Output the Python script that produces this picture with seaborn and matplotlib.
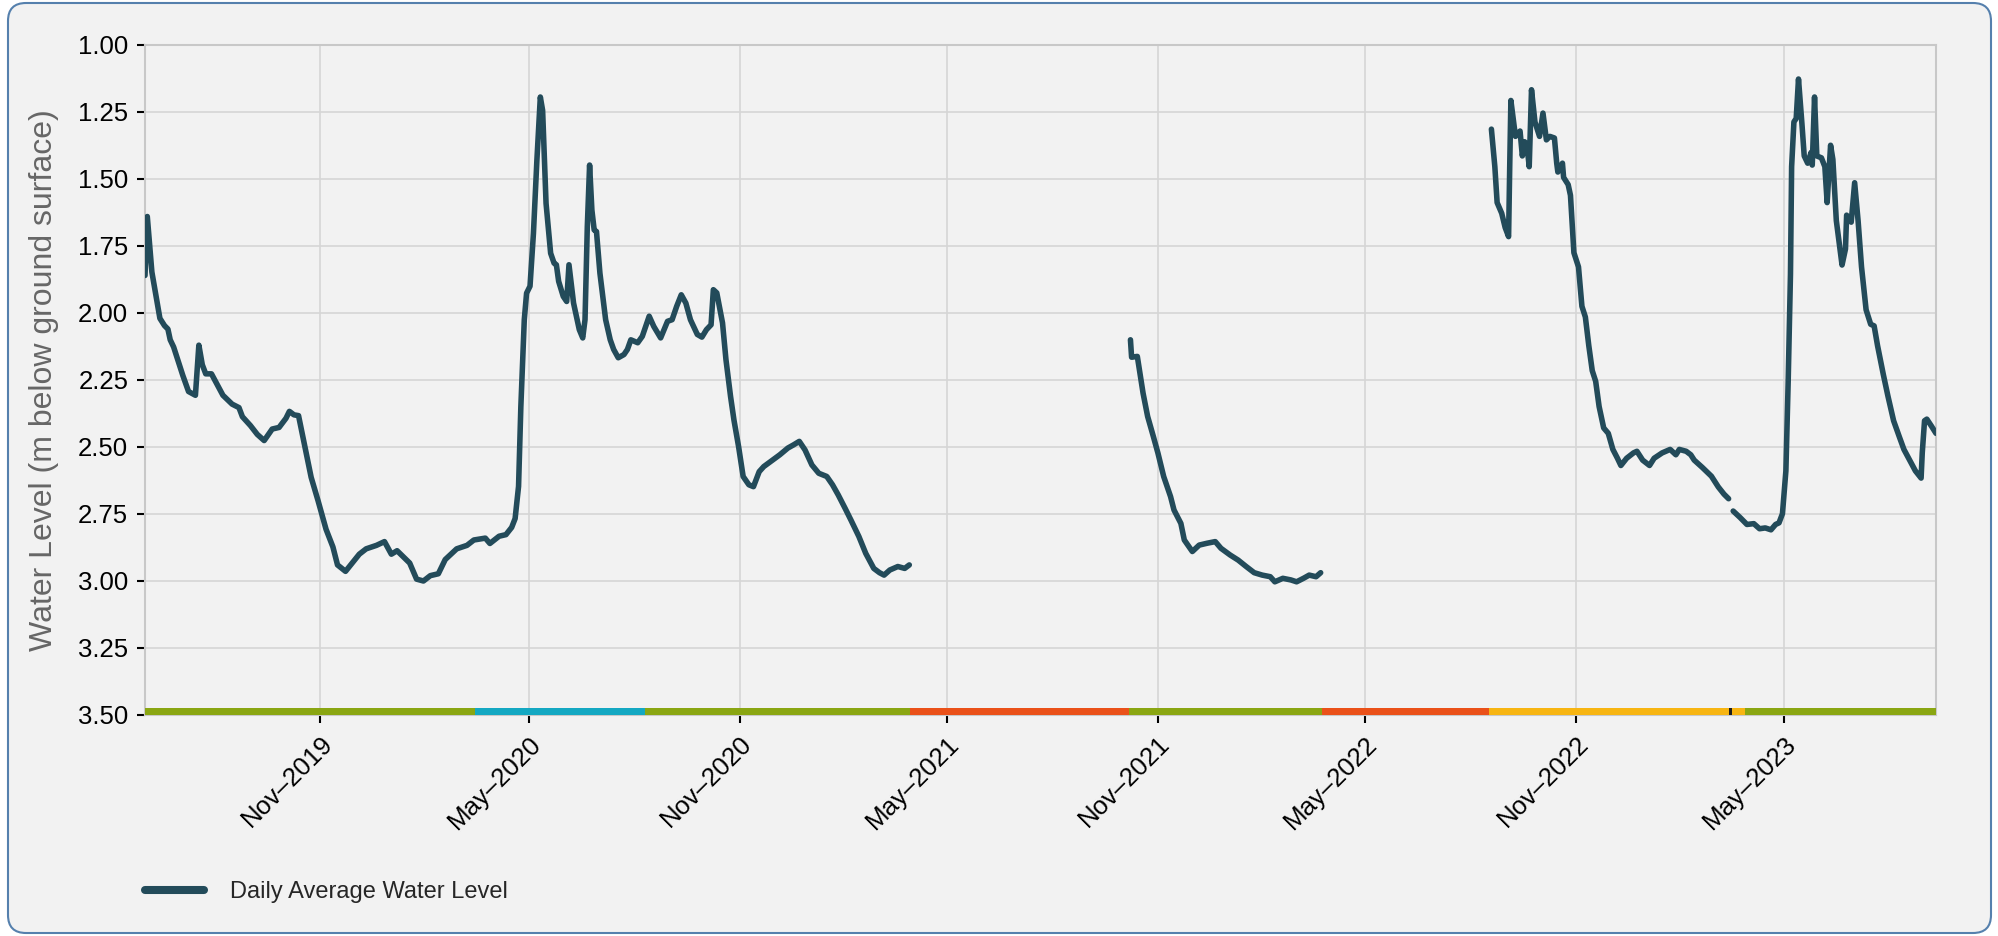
import numpy as np
import pandas as pd
import seaborn as sns
import matplotlib.pyplot as plt
import matplotlib.dates as mdates
from matplotlib.lines import Line2D
from matplotlib.patches import FancyBboxPatch

# ---------------------------
# Data
# ---------------------------
start_date = pd.Timestamp("2019-06-01")

# days since start_date and daily average level (m below ground surface), one pair per logging run
run1_days = [0, 2, 6, 13, 17, 20, 22, 25, 33, 38, 44, 47, 50, 53, 58, 68, 76, 82, 85, 92,
             98, 104, 111, 117, 123, 126, 130, 134, 139, 145, 151, 158, 164, 168, 175, 182, 187, 193, 202, 209,
             215, 220, 231, 237, 243, 249, 256, 262, 272, 281, 287, 297, 301, 309, 315, 320, 323, 326, 328, 331,
             333, 336, 339, 342, 345, 347, 350, 354, 357, 359, 361, 365, 368, 370, 374, 379, 382, 384, 386, 388,
             390, 392, 394, 397, 402, 406, 409, 413, 418, 421, 424, 430, 434, 440, 444, 450, 456, 460, 464, 468,
             472, 476, 482, 486, 490, 494, 496, 499, 504, 507, 511, 514, 518, 522, 527, 531, 536, 540, 546, 554,
             561, 566, 571, 576, 582, 588, 595, 600, 605, 611, 616, 623, 629, 636, 641, 645, 650, 657, 663, 667]
run1_level = [1.86, 1.64, 1.847, 2.02, 2.047, 2.06, 2.10, 2.127, 2.233, 2.293, 2.307, 2.12, 2.193, 2.227, 2.227, 2.307, 2.34, 2.353, 2.387, 2.42,
              2.453, 2.476, 2.433, 2.427, 2.393, 2.367, 2.38, 2.383, 2.487, 2.613, 2.70, 2.807, 2.873, 2.94, 2.964, 2.927, 2.90, 2.88, 2.867, 2.853,
              2.90, 2.887, 2.933, 2.993, 3.00, 2.98, 2.973, 2.92, 2.88, 2.867, 2.847, 2.84, 2.86, 2.833, 2.827, 2.80, 2.767, 2.647, 2.35, 2.025,
              1.926, 1.90, 1.702, 1.43, 1.194, 1.244, 1.591, 1.777, 1.814, 1.82, 1.882, 1.938, 1.957, 1.82, 1.963, 2.062, 2.093, 2.025, 1.678, 1.448,
              1.616, 1.69, 1.696, 1.851, 2.025, 2.10, 2.136, 2.167, 2.155, 2.136, 2.10, 2.111, 2.087, 2.012, 2.05, 2.093, 2.031, 2.025, 1.975, 1.932,
              1.963, 2.025, 2.08, 2.09, 2.062, 2.044, 1.913, 1.925, 2.037, 2.174, 2.311, 2.40, 2.498, 2.61, 2.641, 2.648, 2.592, 2.573, 2.554, 2.529,
              2.504, 2.492, 2.479, 2.511, 2.567, 2.598, 2.61, 2.641, 2.679, 2.729, 2.772, 2.834, 2.897, 2.953, 2.969, 2.978, 2.959, 2.946, 2.953, 2.94]

run2_days = [860, 861, 866, 871, 875, 880, 884, 889, 895, 898, 904, 907, 914, 920, 927, 934, 939, 947, 954, 961,
             968, 975, 982, 986, 993, 1000, 1005, 1011, 1016, 1022, 1026]
run2_level = [2.10, 2.165, 2.162, 2.299, 2.386, 2.461, 2.523, 2.61, 2.685, 2.735, 2.785, 2.847, 2.89, 2.866, 2.859, 2.853, 2.878, 2.903, 2.922, 2.946,
              2.969, 2.978, 2.984, 3.003, 2.99, 2.996, 3.003, 2.99, 2.978, 2.984, 2.969]

run3_days = [1175, 1178, 1180, 1184, 1187, 1190, 1191, 1192, 1196, 1200, 1202, 1204, 1206, 1208, 1210, 1213, 1217, 1220, 1223, 1226,
             1230, 1232, 1233, 1237, 1238, 1242, 1244, 1247, 1251, 1254, 1257, 1260, 1263, 1266, 1269, 1273, 1277, 1281, 1285, 1288,
             1293, 1299, 1302, 1307, 1313, 1317, 1324, 1331, 1336, 1339, 1345, 1349, 1352, 1359, 1367, 1373, 1378, 1382]
run3_level = [1.314, 1.454, 1.588, 1.628, 1.681, 1.715, 1.45, 1.207, 1.341, 1.321, 1.414, 1.361, 1.374, 1.454, 1.167, 1.287, 1.341, 1.254, 1.354, 1.341,
              1.347, 1.441, 1.474, 1.441, 1.494, 1.521, 1.561, 1.775, 1.828, 1.975, 2.015, 2.122, 2.215, 2.255, 2.349, 2.429, 2.449, 2.509, 2.542, 2.569,
              2.542, 2.522, 2.516, 2.549, 2.569, 2.542, 2.522, 2.509, 2.529, 2.509, 2.516, 2.529, 2.549, 2.576, 2.609, 2.649, 2.676, 2.693]

run4_days = [1386, 1392, 1398, 1404, 1409, 1414, 1419, 1423, 1426, 1429, 1432, 1434, 1436, 1437, 1439, 1441, 1443, 1446, 1448, 1451,
             1454, 1455, 1457, 1459, 1463, 1466, 1468, 1471, 1473, 1476, 1481, 1484, 1485, 1489, 1492, 1495, 1498, 1502, 1506, 1509,
             1512, 1517, 1521, 1526, 1531, 1535, 1540, 1545, 1550, 1551, 1553, 1555, 1559, 1563]
run4_level = [2.739, 2.763, 2.789, 2.786, 2.805, 2.802, 2.809, 2.789, 2.783, 2.749, 2.589, 2.255, 1.855, 1.454, 1.287, 1.274, 1.127, 1.294, 1.414, 1.441,
              1.401, 1.448, 1.194, 1.414, 1.421, 1.454, 1.588, 1.374, 1.427, 1.655, 1.821, 1.761, 1.635, 1.661, 1.514, 1.655, 1.828, 1.988, 2.042, 2.048,
              2.122, 2.229, 2.309, 2.402, 2.462, 2.509, 2.549, 2.589, 2.616, 2.522, 2.402, 2.396, 2.422, 2.449]

# data-quality status strip along the bottom of the chart
status_start = ["2019-06-01", "2020-03-15", "2020-08-10", "2021-03-30", "2021-10-07",
                "2022-03-24", "2022-08-17", "2023-03-14", "2023-03-17", "2023-03-28"]
status_end = ["2020-03-15", "2020-08-10", "2021-03-30", "2021-10-07", "2022-03-24",
              "2022-08-17", "2023-03-14", "2023-03-17", "2023-03-28", "2023-09-11"]
status_code = ["good", "provisional", "good", "missing", "good",
               "missing", "estimated", "gap", "estimated", "good"]
status_colors = {"good": "#8aa612", "provisional": "#14a8c2", "missing": "#ea5119",
                 "estimated": "#f7b512", "gap": "#1e1e1e"}

line_color = "#234b5a"

runs = [(run1_days, run1_level), (run2_days, run2_level), (run3_days, run3_level), (run4_days, run4_level)]
frames = []
for i, (d, v) in enumerate(runs):
    frames.append(pd.DataFrame({"run": i, "day": d, "level": v}))
df = pd.concat(frames, ignore_index=True)
df["date"] = start_date + pd.to_timedelta(df["day"], unit="D")

# ---------------------------
# Styling
# ---------------------------
sns.set_theme(style="whitegrid")
plt.rcParams["font.family"] = ["Liberation Sans", "DejaVu Sans"]

W, H = 1999, 936
fig = plt.figure(figsize=(W / 100, H / 100), dpi=100, facecolor="white")

# rounded panel behind the chart
panel = FancyBboxPatch((8, 3), W - 16, H - 6, boxstyle="round,pad=0,rounding_size=18",
                       transform=None, facecolor="#f2f2f2", edgecolor="#5580ad", linewidth=1.5, zorder=-5)
fig.add_artist(panel)

ax = fig.add_axes([145 / W, 1 - 715 / H, (1936 - 145) / W, (715 - 45) / H])
ax.set_facecolor("#f2f2f2")

# ---------------------------
# Status strip
# ---------------------------
for s, e, code in zip(status_start, status_end, status_code):
    days = pd.date_range(s, e, freq="D", inclusive="left")
    ax.bar(days, 0.026, width=1.0, bottom=3.474, align="edge", color=status_colors[code],
           linewidth=0, zorder=3)

# ---------------------------
# Water level line
# ---------------------------
for i, grp in df.groupby("run"):
    sns.lineplot(data=grp, x="date", y="level", ax=ax, color=line_color, linewidth=4.0,
                 solid_joinstyle="round", solid_capstyle="round",
                 label="Daily Average Water Level" if i == 0 else None, legend=False, zorder=4)

ax.set_ylim(3.5, 1.0)
ax.set_yticks(np.arange(1.0, 3.51, 0.25))
ax.yaxis.set_major_formatter(plt.FuncFormatter(lambda v, p: f"{v:.2f}"))
ax.set_xlim(pd.Timestamp(status_start[0]), pd.Timestamp(status_end[-1]))
ax.set_xticks(pd.date_range("2019-11-01", "2023-05-01", freq="6MS"))
ax.xaxis.set_major_formatter(mdates.DateFormatter("%b\u2013%Y"))

ax.grid(color="#d6d6d6", linewidth=1.2)
ax.set_axisbelow(True)
for sp in ax.spines.values():
    sp.set_color("#c8c8c8")
    sp.set_linewidth(1.5)

ax.tick_params(axis="both", which="major", bottom=True, left=True, direction="out",
               length=6, width=1.5, color="black", labelcolor="black", labelsize=18.5, pad=6)
plt.setp(ax.get_xticklabels(), rotation=45, ha="right", rotation_mode="anchor")

ax.set_xlabel("")
ax.set_ylabel("Water Level (m below ground surface)", fontsize=23, color="#666666", labelpad=14)

# legend below the axes
handles, labels = ax.get_legend_handles_labels()
proxy = [Line2D([], [], color=h.get_color(), linewidth=5.8) for h in handles]
fig.legend(proxy, labels, loc="center left", bbox_to_anchor=(145 / W, 1 - 892 / H),
           frameon=False, fontsize=17, handlelength=2.5, handletextpad=1.1,
           borderpad=0, borderaxespad=0)

fig.savefig("out.png", dpi=100, facecolor="white")
